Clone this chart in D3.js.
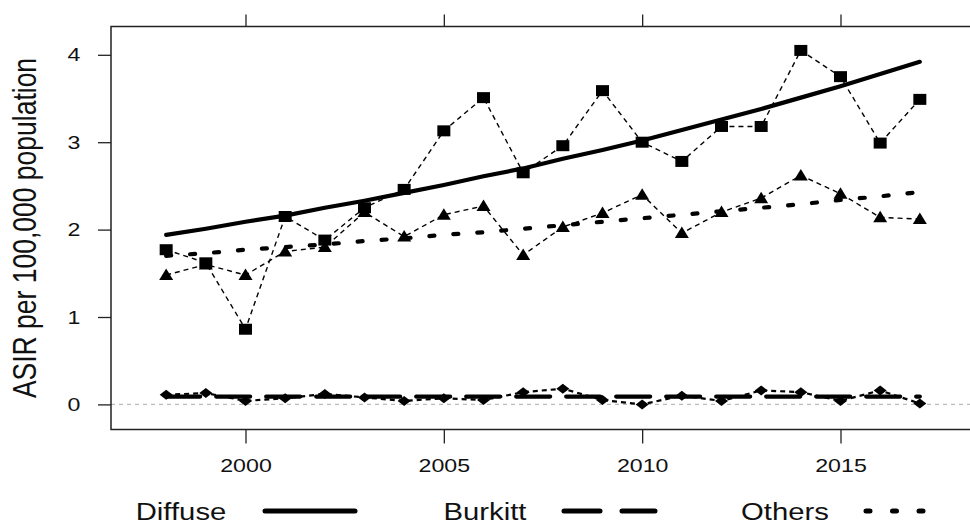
<!DOCTYPE html>
<meta charset="utf-8">
<title>ASIR trends</title>
<script src="https://cdn.jsdelivr.net/npm/d3@7"></script>
<style>
html, body {
    margin: 0;
    background: #fff;
}
svg {
    display: block;
    font-family: "Liberation Sans", Arial, sans-serif;
}
.axis text {
    font-size: 19px;
    fill: #111;
}
.axis line {
    stroke: #222;
    stroke-width: 1.3;
}
</style>
<body>
<script>
var years = d3.range(1998, 2018);

var diffuseObs = [1.77, 1.62, 0.86, 2.15, 1.88, 2.25, 2.46, 3.13, 3.51, 2.65,
                  2.96, 3.59, 3.00, 2.78, 3.18, 3.18, 4.05, 3.75, 2.99, 3.49];
var diffuseFit = [1.94, 2.01, 2.09, 2.16, 2.25, 2.33, 2.42, 2.51, 2.61, 2.70,
                  2.81, 2.91, 3.02, 3.14, 3.26, 3.38, 3.51, 3.64, 3.78, 3.92];

var othersObs = [1.48, 1.60, 1.48, 1.75, 1.80, 2.20, 1.92, 2.17, 2.27, 1.71,
                 2.03, 2.19, 2.40, 1.96, 2.20, 2.36, 2.62, 2.41, 2.14, 2.12];
var othersFit = [1.70, 1.73, 1.77, 1.80, 1.83, 1.87, 1.90, 1.94, 1.97, 2.01,
                 2.05, 2.09, 2.13, 2.17, 2.21, 2.25, 2.29, 2.34, 2.38, 2.43];

var burkittObs = [0.11, 0.13, 0.04, 0.07, 0.12, 0.08, 0.04, 0.07, 0.05, 0.14,
                  0.18, 0.05, 0.00, 0.10, 0.04, 0.16, 0.14, 0.04, 0.16, 0.01];
var burkittFit = [0.09, 0.09, 0.09, 0.09, 0.09, 0.09, 0.09, 0.09, 0.09, 0.09,
                  0.09, 0.09, 0.09, 0.09, 0.09, 0.09, 0.09, 0.09, 0.09, 0.09];

var xTicks = [2000, 2005, 2010, 2015],
    yTicks = [0, 1, 2, 3, 4];

var legendLabels = ["Diffuse", "Burkitt", "Others"];

var width = 970,
    height = 525,
    stretch = 1.22;   // the original picture is a little wider than tall

var box = { left: 111, top: 26.5, right: 975, bottom: 429.5 };

var svg = d3.select("body").append("svg")
    .attr("width", width)
    .attr("height", height);

var x = d3.scaleLinear().domain([2000, 2015]).range([245.5, 840.5]),
    y = d3.scaleLinear().domain([0, 4]).range([404.4, 54.8]);

// reference line at zero
svg.append("line")
    .attr("x1", box.left).attr("x2", box.right)
    .attr("y1", y(0)).attr("y2", y(0))
    .attr("stroke", "#bbb")
    .attr("stroke-width", 1.2)
    .attr("stroke-dasharray", "4,4");

// axes
var bottom = svg.append("g")
    .attr("class", "axis")
    .attr("transform", "translate(0," + box.bottom + ")")
    .call(d3.axisBottom(x).tickValues(xTicks).tickFormat(d3.format("d")).tickSize(14).tickPadding(15).tickSizeOuter(0));

var top = svg.append("g")
    .attr("class", "axis")
    .attr("transform", "translate(0," + box.top + ")")
    .call(d3.axisTop(x).tickValues(xTicks).tickFormat("").tickSize(12).tickSizeOuter(0));

var left = svg.append("g")
    .attr("class", "axis")
    .attr("transform", "translate(" + box.left + ",0)")
    .call(d3.axisLeft(y).tickValues(yTicks).tickFormat(d3.format("d")).tickSize(13).tickPadding(16).tickSizeOuter(0));

svg.selectAll(".axis .domain").remove();

bottom.selectAll("text")
    .attr("transform", "scale(" + stretch + ",1)")
    .attr("x", 0);
left.selectAll("text").attr("text-anchor", "middle")
    .attr("x", -37 / stretch)
    .attr("transform", "scale(" + stretch + ",1)");

svg.append("rect")
    .attr("x", box.left).attr("y", box.top)
    .attr("width", box.right - box.left)
    .attr("height", box.bottom - box.top)
    .attr("fill", "none")
    .attr("stroke", "#222")
    .attr("stroke-width", 1.5);

svg.append("text")
    .attr("transform", "translate(36,228) scale(" + stretch + ",1) rotate(-90)")
    .attr("text-anchor", "middle")
    .attr("font-size", 26.5)
    .attr("fill", "#111")
    .text("ASIR per 100,000 population");

// data
function pts(vals) {
    return vals.map(function(v, i) { return [years[i], v]; });
}

var line = d3.line()
    .x(function(d) { return x(d[0]); })
    .y(function(d) { return y(d[1]); });

var plot = svg.append("g");

function observed(vals, w) {
    plot.append("path")
        .datum(pts(vals))
        .attr("d", line)
        .attr("fill", "none")
        .attr("stroke", "#000")
        .attr("stroke-width", w)
        .attr("stroke-dasharray", "5,4");
}

function fitted(vals, dash) {
    plot.append("path")
        .datum(pts(vals))
        .attr("d", line)
        .attr("fill", "none")
        .attr("stroke", "#000")
        .attr("stroke-width", 4.2)
        .attr("stroke-linecap", "round")
        .attr("stroke-dasharray", dash);
}

observed(diffuseObs, 1.4);
observed(othersObs, 1.4);
observed(burkittObs, 2.2);

fitted(diffuseFit, null);
fitted(othersFit, "5,19");
fitted(burkittFit, "34,16");

var square = "M-6.5,-5.5H6.5V5.5H-6.5Z",
    triangle = "M0,-6.5L7,5L-7,5Z",
    diamond = "M-6.5,0L0,-5L6.5,0L0,5Z";

function markers(vals, shape) {
    plot.append("g").selectAll("path")
        .data(pts(vals))
        .enter().append("path")
        .attr("transform", function(d) { return "translate(" + x(d[0]) + "," + y(d[1]) + ")"; })
        .attr("d", shape)
        .attr("fill", "#000");
}

markers(diffuseObs, square);
markers(othersObs, triangle);
markers(burkittObs, diamond);

// legend
var legendX = [181, 485, 785],
    legendLineX = [[265, 355], [564, 655], [866, 944]],
    legendDash = [null, "36,22", "4,22.5"],
    legendY = 511;

var legend = svg.append("g");

legendLabels.forEach(function(label, i) {
    legend.append("text")
        .attr("transform", "translate(" + legendX[i] + "," + (legendY + 9) + ") scale(" + stretch + ",1)")
        .attr("text-anchor", "middle")
        .attr("font-size", 24)
        .attr("fill", "#111")
        .text(label);
    legend.append("line")
        .attr("x1", legendLineX[i][0]).attr("x2", legendLineX[i][1])
        .attr("y1", legendY).attr("y2", legendY)
        .attr("stroke", "#000")
        .attr("stroke-width", 5)
        .attr("stroke-linecap", "round")
        .attr("stroke-dasharray", legendDash[i]);
});
</script>
</body>
